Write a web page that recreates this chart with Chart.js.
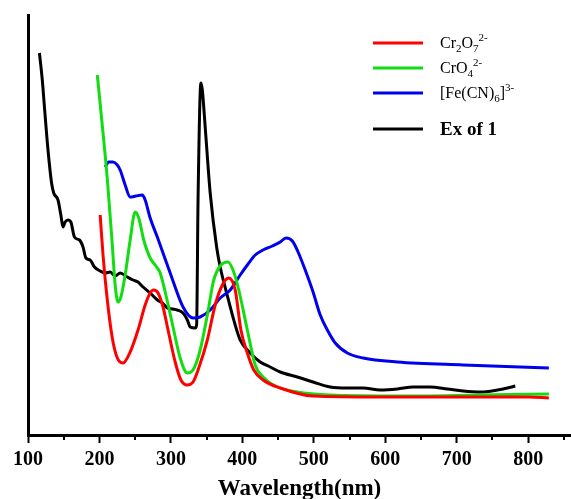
<!DOCTYPE html>
<html><head><meta charset="utf-8">
<script src="https://cdn.jsdelivr.net/npm/chart.js@4.4.1/dist/chart.umd.min.js"></script>
<style>html,body{margin:0;padding:0;background:#fff;}canvas{display:block;}</style>
</head><body>
<canvas id="c" width="571" height="499"></canvas>
<script>
// Wavelengths (nm) and relative intensities (arb. units)
const redNm  = [201,205,211,218,225,233,243,254,264,271,276,282,289,296,306,314,323,331,339,351,362,372,381,390,398,407,416,429,453,499,593,733,802,829];
const redVal = [220,180,135,97,77,72,83,105,130,142,145,142,128,105,73,55,50,53,67,95,130,150,157,145,105,82,65,55,47,39,38,38,38,37];

const greenNm  = [197,205,211,218,222,226,230,236,243,250,255,262,271,279,285,293,303,313,323,331,341,351,360,370,380,388,395,407,418,429,446,477,523,621,733,829];
const greenVal = [360,302,256,190,150,133,138,160,195,223,217,195,177,169,162,140,108,77,62,65,85,120,155,170,173,163,145,105,70,58,49,43,40,39,40,41];

const blueNm  = [208,213,219,225,229,236,243,251,260,264,271,281,299,317,331,341,355,369,383,397,407,418,429,442,453,461,470,478,488,499,509,519,530,547,569,617,709,829];
const blueVal = [268,273,273,270,265,250,238,239,240,235,217,198,162,128,117,118,125,137,145,160,170,180,185,189,193,197,194,183,165,143,120,105,92,82,77,73,70,67];

const blackNm  = [116,120,123,128,133,136,142,146,149,152,156,160,165,172,177,181,187,193,201,208,215,222,229,239,247,254,261,271,281,288,295,302,309,317,323,327,334,336,338,342,344,348,355,364,369,378,390,397,411,425,439,453,477,499,523,547,569,593,617,639,663,687,709,733,757,771,782];
const blackVal = [382,355,328,285,252,242,235,220,208,213,215,213,198,195,188,177,175,168,164,162,163,159,162,158,155,153,148,142,135,132,127,126,125,122,115,108,107,110,235,352,345,308,242,188,168,142,110,95,82,73,68,63,58,53,48,47,47,45,46,48,48,46,44,43,45,47,49];

const xTicks = [100,200,300,400,500,600,700,800];
const xMinorTicks = [150,250,350,450,550,650,750,850];

// legend labels: [text, mode] runs
const legendLabels = [
  [['Cr',''],['2','sub'],['O',''],['7','sub'],['2-','sup']],
  [['CrO',''],['4','sub'],['2-','sup']],
  [['[Fe(CN)',''],['6','sub'],[']',''],['3-','sup']],
  [['Ex of 1','bold']]
];
const colors = ['#ff0000','#11dd11','#0000ee','#000000'];

function pts(xs, ys){ return xs.map((x,i)=>({x:x, y:ys[i]})); }

const minorTickPlugin = {
  id:'minorTicks',
  afterDraw(chart){
    const ctx = chart.ctx, xs = chart.scales.x, y0 = chart.chartArea.bottom;
    ctx.save();
    ctx.strokeStyle = '#000'; ctx.lineWidth = 2;
    xMinorTicks.forEach(v=>{
      if (v > xs.max) return;
      const px = Math.round(xs.getPixelForValue(v));
      ctx.beginPath(); ctx.moveTo(px, y0); ctx.lineTo(px, y0+5); ctx.stroke();
    });
    ctx.restore();
  }
};

const legendPlugin = {
  id:'customLegend',
  afterDraw(chart){
    const ctx = chart.ctx;
    const lineY = [43,68,93,129];
    const baseY = [48,73,98,135];
    ctx.save();
    legendLabels.forEach((runs,i)=>{
      ctx.strokeStyle = colors[i]; ctx.lineWidth = 3;
      ctx.beginPath(); ctx.moveTo(373,lineY[i]); ctx.lineTo(423,lineY[i]); ctx.stroke();
      let x = 440;
      ctx.fillStyle = '#000'; ctx.textBaseline = 'alphabetic'; ctx.textAlign='left';
      runs.forEach(([t,m])=>{
        let y = baseY[i];
        if (m==='bold') ctx.font = 'bold 19px "Liberation Serif", "Times New Roman", serif';
        else if (m==='sub'){ ctx.font = '11px "Liberation Serif", serif'; y += 4; }
        else if (m==='sup'){ ctx.font = '11px "Liberation Serif", serif'; y -= 7; }
        else ctx.font = '16px "Liberation Serif", "Times New Roman", serif';
        ctx.fillText(t, x, y);
        x += ctx.measureText(t).width;
      });
    });
    ctx.restore();
  }
};

const ds = (label, xs, ys, color, tension) => ({
  label, data: pts(xs, ys), borderColor: color, backgroundColor: color,
  borderWidth: 3, pointRadius: 0, tension: tension, cubicInterpolationMode: 'monotone', fill:false
});

new Chart(document.getElementById('c'), {
  type:'line',
  data:{ datasets:[
    ds('Cr2O7 2-', redNm, redVal, colors[0], 0.4),
    ds('CrO4 2-', greenNm, greenVal, colors[1], 0.4),
    ds('[Fe(CN)6]3-', blueNm, blueVal, colors[2], 0.4),
    ds('Ex of 1', blackNm, blackVal, colors[3], 0.2)
  ]},
  options:{
    responsive:false, animation:false,
    layout:{ padding:{ top:15, left:0, right:0, bottom:0 } },
    plugins:{ legend:{display:false}, tooltip:{enabled:false} },
    scales:{
      x:{
        type:'linear', min:100, max:860,
        afterBuildTicks(s){ s.ticks = xTicks.map(v=>({value:v})); },
        afterFit(s){ s.height = 64; },
        ticks:{ color:'#000', font:{family:'"Liberation Serif", "Times New Roman", serif', size:20, weight:'bold'}, padding:5, maxRotation:0, autoSkip:false },
        grid:{ display:true, drawOnChartArea:false, drawTicks:true, tickLength:8, tickWidth:2, tickColor:'#000' },
        border:{ display:true, width:3, color:'#000' },
        title:{ display:true, text:'Wavelength(nm)', color:'#000', font:{family:'"Liberation Serif", "Times New Roman", serif', size:23, weight:'bold'}, padding:{top:0,bottom:-4} }
      },
      y:{
        min:0, max:420,
        afterFit(s){ s.width = 28; },
        ticks:{ display:false },
        grid:{ display:false, drawTicks:false },
        border:{ display:true, width:3, color:'#000' }
      }
    }
  },
  plugins:[minorTickPlugin, legendPlugin]
});
</script>
</body></html>
